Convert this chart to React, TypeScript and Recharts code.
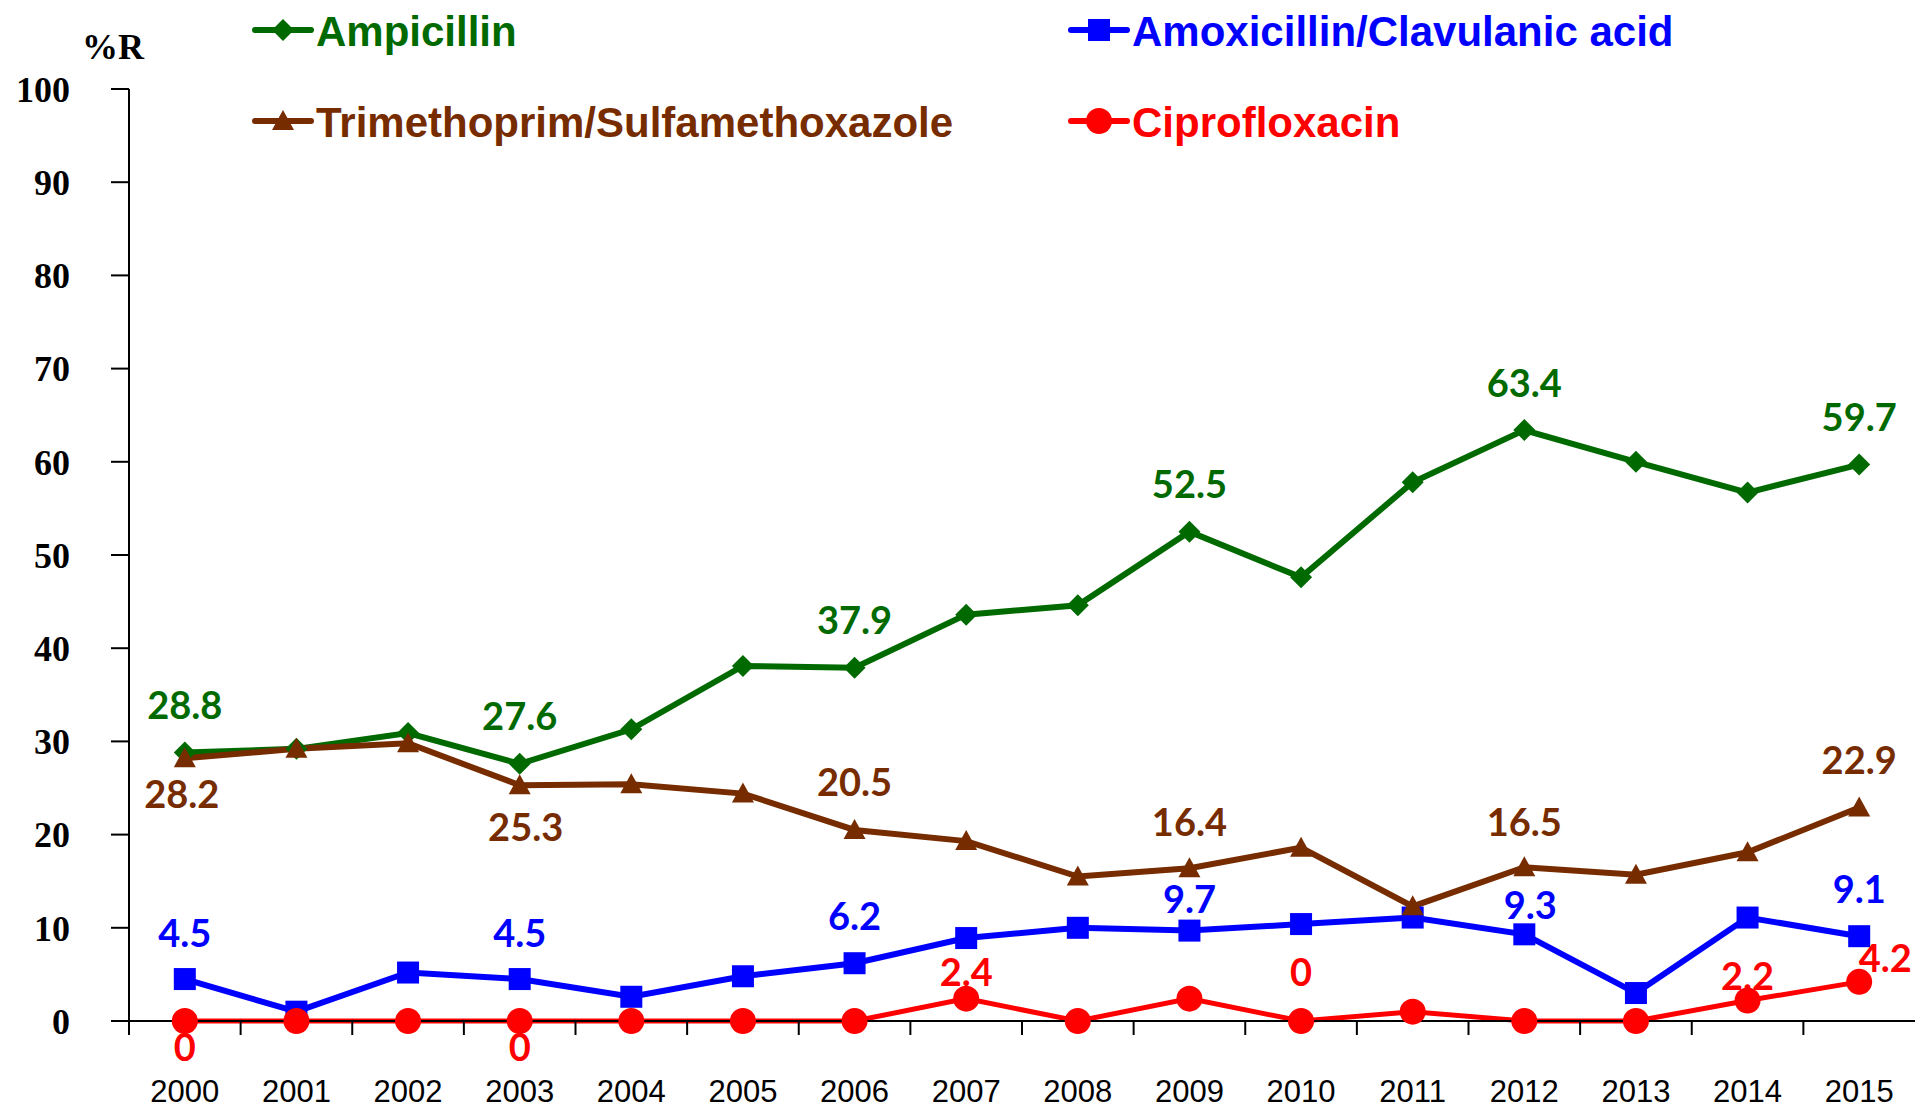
import { LineChart, Line, XAxis, YAxis, Legend, LabelList } from 'recharts';

const years = ['2000', '2001', '2002', '2003', '2004', '2005', '2006', '2007', '2008', '2009', '2010', '2011', '2012', '2013', '2014', '2015'];
const ampicillin = [28.8, 29.2, 30.9, 27.6, 31.3, 38.1, 37.9, 43.6, 44.6, 52.5, 47.6, 57.8, 63.4, 60.0, 56.7, 59.7];
const amoxiClav = [4.5, 1.0, 5.2, 4.5, 2.6, 4.8, 6.2, 8.9, 10.0, 9.7, 10.4, 11.1, 9.3, 3.0, 11.1, 9.1];
const trimSulfa = [28.2, 29.2, 29.8, 25.3, 25.4, 24.4, 20.5, 19.3, 15.5, 16.4, 18.6, 12.3, 16.5, 15.7, 18.1, 22.9];
const cipro = [0, 0, 0, 0, 0, 0, 0, 2.4, 0, 2.4, 0, 1.0, 0, 0, 2.2, 4.2];
const yTicks = [0, 10, 20, 30, 40, 50, 60, 70, 80, 90, 100];

const data = years.map((year, i) => ({
  year,
  amp: ampicillin[i],
  amc: amoxiClav[i],
  sxt: trimSulfa[i],
  cip: cipro[i],
}));

const W = 1915;
const H = 1109;
const PLOT_LEFT = 129;
const BAND = (W - PLOT_LEFT) / years.length;

type Shape = 'diamond' | 'square' | 'triangle' | 'circle';

// which points carry a value label, and where the label sits relative to the marker
const series: {
  key: string;
  name: string;
  color: string;
  shape: Shape;
  width: number;
  labels: Record<number, [number, number]>;
  legend: [number, number];
}[] = [
  {
    key: 'amp', name: 'Ampicillin', color: '#006a00', shape: 'diamond', width: 6,
    labels: { 0: [0, -47], 3: [0, -47], 6: [0, -47], 9: [0, -47], 12: [0, -47], 15: [0, -47] },
    legend: [255, 30],
  },
  {
    key: 'amc', name: 'Amoxicillin/Clavulanic acid', color: '#0000ff', shape: 'square', width: 6,
    labels: { 0: [0, -46], 3: [0, -46], 6: [0, -47], 9: [0, -31], 12: [6, -29], 15: [0, -47] },
    legend: [1071, 30],
  },
  {
    key: 'sxt', name: 'Trimethoprim/Sulfamethoxazole', color: '#772c00', shape: 'triangle', width: 6,
    labels: { 0: [-3, 36], 3: [6, 42], 6: [0, -47], 9: [0, -46], 12: [0, -45], 15: [0, -47] },
    legend: [255, 121],
  },
  {
    key: 'cip', name: 'Ciprofloxacin', color: '#ff0000', shape: 'circle', width: 5,
    labels: { 0: [0, 26], 3: [0, 26], 7: [0, -26], 10: [0, -49], 14: [0, -24], 15: [26, -23] },
    legend: [1071, 121],
  },
];

function Marker({ cx, cy, shape, color }: { cx: number; cy: number; shape: Shape; color: string }) {
  if (shape === 'diamond') {
    return <polygon points={`${cx},${cy - 11} ${cx + 11},${cy} ${cx},${cy + 11} ${cx - 11},${cy}`} fill={color} />;
  }
  if (shape === 'square') {
    return <rect x={cx - 11} y={cy - 11} width={22} height={22} fill={color} />;
  }
  if (shape === 'triangle') {
    return <polygon points={`${cx},${cy - 11} ${cx + 11},${cy + 9} ${cx - 11},${cy + 9}`} fill={color} />;
  }
  return <circle cx={cx} cy={cy} r={13} fill={color} />;
}

function renderLegend() {
  return (
    <svg width={W} height={160} style={{ overflow: 'visible', display: 'block' }}>
      {series.map((s) => {
        const [x, y] = s.legend;
        return (
          <g key={s.key}>
            <line x1={x} y1={y} x2={x + 56} y2={y} stroke={s.color} strokeWidth={6} strokeLinecap="round" />
            <Marker cx={x + 28} cy={y} shape={s.shape} color={s.color} />
            <text
              x={x + 61}
              y={y + 16}
              fill={s.color}
              fontFamily="'Liberation Sans', Arial, sans-serif"
              fontWeight="bold"
              fontSize={42}
            >
              {s.name}
            </text>
          </g>
        );
      })}
    </svg>
  );
}

function XTick({ x, y, payload }: any) {
  return (
    <g>
      <line x1={x - BAND / 2} y1={y} x2={x - BAND / 2} y2={y + 14} stroke="#000" strokeWidth={2} />
      <text
        x={x}
        y={y + 81}
        textAnchor="middle"
        fill="#000"
        fontFamily="'Liberation Sans', Arial, sans-serif"
        fontSize={31}
      >
        {payload.value}
      </text>
    </g>
  );
}

function Title({ viewBox }: any) {
  return (
    <text
      x={viewBox.x + viewBox.width - 16}
      y={viewBox.y - 30}
      textAnchor="middle"
      fill="#000"
      fontFamily="'Liberation Serif', 'Times New Roman', serif"
      fontWeight="bold"
      fontSize={36}
    >
      %R
    </text>
  );
}

export default function App() {
  return (
    <div style={{ position: 'absolute', left: 0, top: 0, background: '#fff' }}>
      <LineChart width={W} height={H} data={data} margin={{ top: 89, right: 0, bottom: 0, left: 0 }}>
        <XAxis
          dataKey="year"
          height={88}
          padding={{ left: BAND / 2, right: BAND / 2 }}
          tickSize={0}
          tickMargin={0}
          tick={<XTick />}
          axisLine={{ stroke: '#000', strokeWidth: 2 }}
          interval={0}
        />
        <YAxis
          width={PLOT_LEFT}
          domain={[0, 100]}
          ticks={yTicks}
          interval={0}
          tickSize={18}
          tickMargin={41}
          axisLine={{ stroke: '#000', strokeWidth: 2 }}
          tickLine={{ stroke: '#000', strokeWidth: 2 }}
          tick={{
            fill: '#000',
            fontFamily: "'Liberation Serif', 'Times New Roman', serif",
            fontWeight: 'bold',
            fontSize: 36,
          }}
          label={{ value: '%R', content: <Title /> }}
        />
        <Legend
          layout="horizontal"
          verticalAlign="middle"
          align="center"
          content={renderLegend}
          wrapperStyle={{ top: 0, left: 0, width: W, height: 160 }}
        />
        {series.map((s) => (
          <Line
            key={s.key}
            dataKey={s.key}
            name={s.name}
            stroke={s.color}
            strokeWidth={s.width}
            isAnimationActive={false}
            dot={(p: any) => <Marker key={`${s.key}-${p.index}`} cx={p.cx} cy={p.cy} shape={s.shape} color={s.color} />}
            activeDot={false}
          >
            <LabelList
              dataKey={s.key}
              content={(p: any) => {
                const spot = s.labels[p.index];
                if (!spot) return null;
                return (
                  <text
                    x={p.x + spot[0]}
                    y={p.y + spot[1] + 13.5}
                    textAnchor="middle"
                    fill={s.color}
                    fontFamily="Lato, 'Open Sans', sans-serif"
                    fontWeight="bold"
                    fontSize={38}
                  >
                    {p.value}
                  </text>
                );
              }}
            />
          </Line>
        ))}
      </LineChart>
    </div>
  );
}
